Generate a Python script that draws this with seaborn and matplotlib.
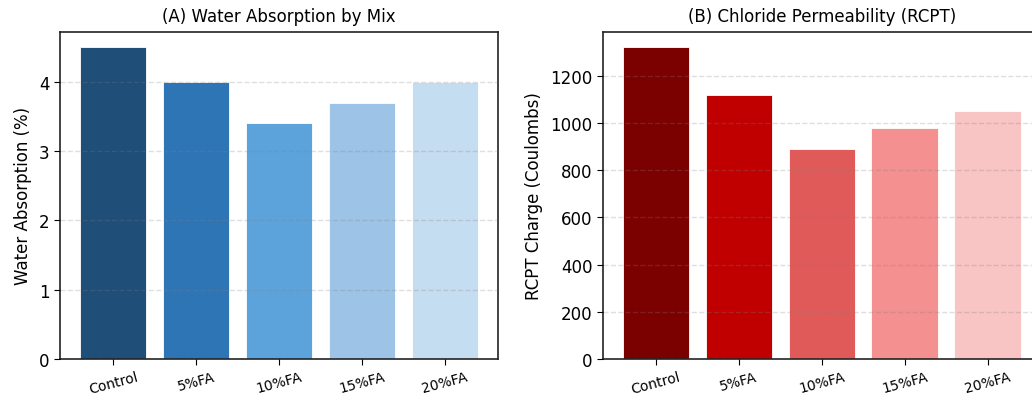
import matplotlib
matplotlib.use("Agg")
import matplotlib.pyplot as plt
import seaborn as sns
import pandas as pd

mixes = ["Control", "5%FA", "10%FA", "15%FA", "20%FA"]
water_absorption = [4.5, 4.0, 3.4, 3.7, 4.0]
rcpt_charge = [1320, 1120, 888, 980, 1050]
blue_colors = ["#1f4e79", "#2e75b6", "#5ba3da", "#9dc3e6", "#c5ddf0"]
red_colors = ["#7b0000", "#c00000", "#e05a5a", "#f4908f", "#f8c4c4"]

sns.set_style("ticks")
plt.rcParams["font.family"] = ["DejaVu Sans"]
plt.rcParams.update({"text.color": "black", "axes.labelcolor": "black",
                     "xtick.color": "black", "ytick.color": "black"})

df = pd.DataFrame({"Mix": mixes, "WA": water_absorption, "RCPT": rcpt_charge})

fig = plt.figure(figsize=(10.32, 4.02), dpi=100)
W, H = 1032, 402
ax1 = fig.add_axes([60 / W, (H - 360) / H, 438 / W, 327.3 / H])
ax2 = fig.add_axes([602.7 / W, (H - 360) / H, 438 / W, 327.3 / H])

for ax, col, colors, title, ylabel in [
    (ax1, "WA", blue_colors, "(A) Water Absorption by Mix", "Water Absorption (%)"),
    (ax2, "RCPT", red_colors, "(B) Chloride Permeability (RCPT)", "RCPT Charge (Coulombs)"),
]:
    sns.barplot(data=df, x="Mix", y=col, hue="Mix", palette=colors, legend=False,
                saturation=1, width=0.8, edgecolor="white", linewidth=0.6, ax=ax)
    ax.set_xlim(-0.64, 4.64)
    ax.set_ylim(0, max(df[col]) * 1.05)
    ax.set_title(title, fontsize=12, pad=8)
    ax.set_xlabel("")
    ax.set_ylabel(ylabel, fontsize=12, labelpad=5)
    ax.tick_params(axis="y", labelsize=12, length=4)
    ax.tick_params(axis="x", labelsize=10, length=4)
    for lbl in ax.get_xticklabels():
        lbl.set_rotation(15)
    ax.set_axisbelow(False)
    ax.yaxis.grid(True, linestyle="--", color="gray", alpha=0.25, linewidth=1)
    for s in ax.spines.values():
        s.set_visible(True)
        s.set_color("#222222")
        s.set_linewidth(1.2)

ax2.set_yticks([0, 200, 400, 600, 800, 1000, 1200])

fig.savefig("out.png", dpi=100)
